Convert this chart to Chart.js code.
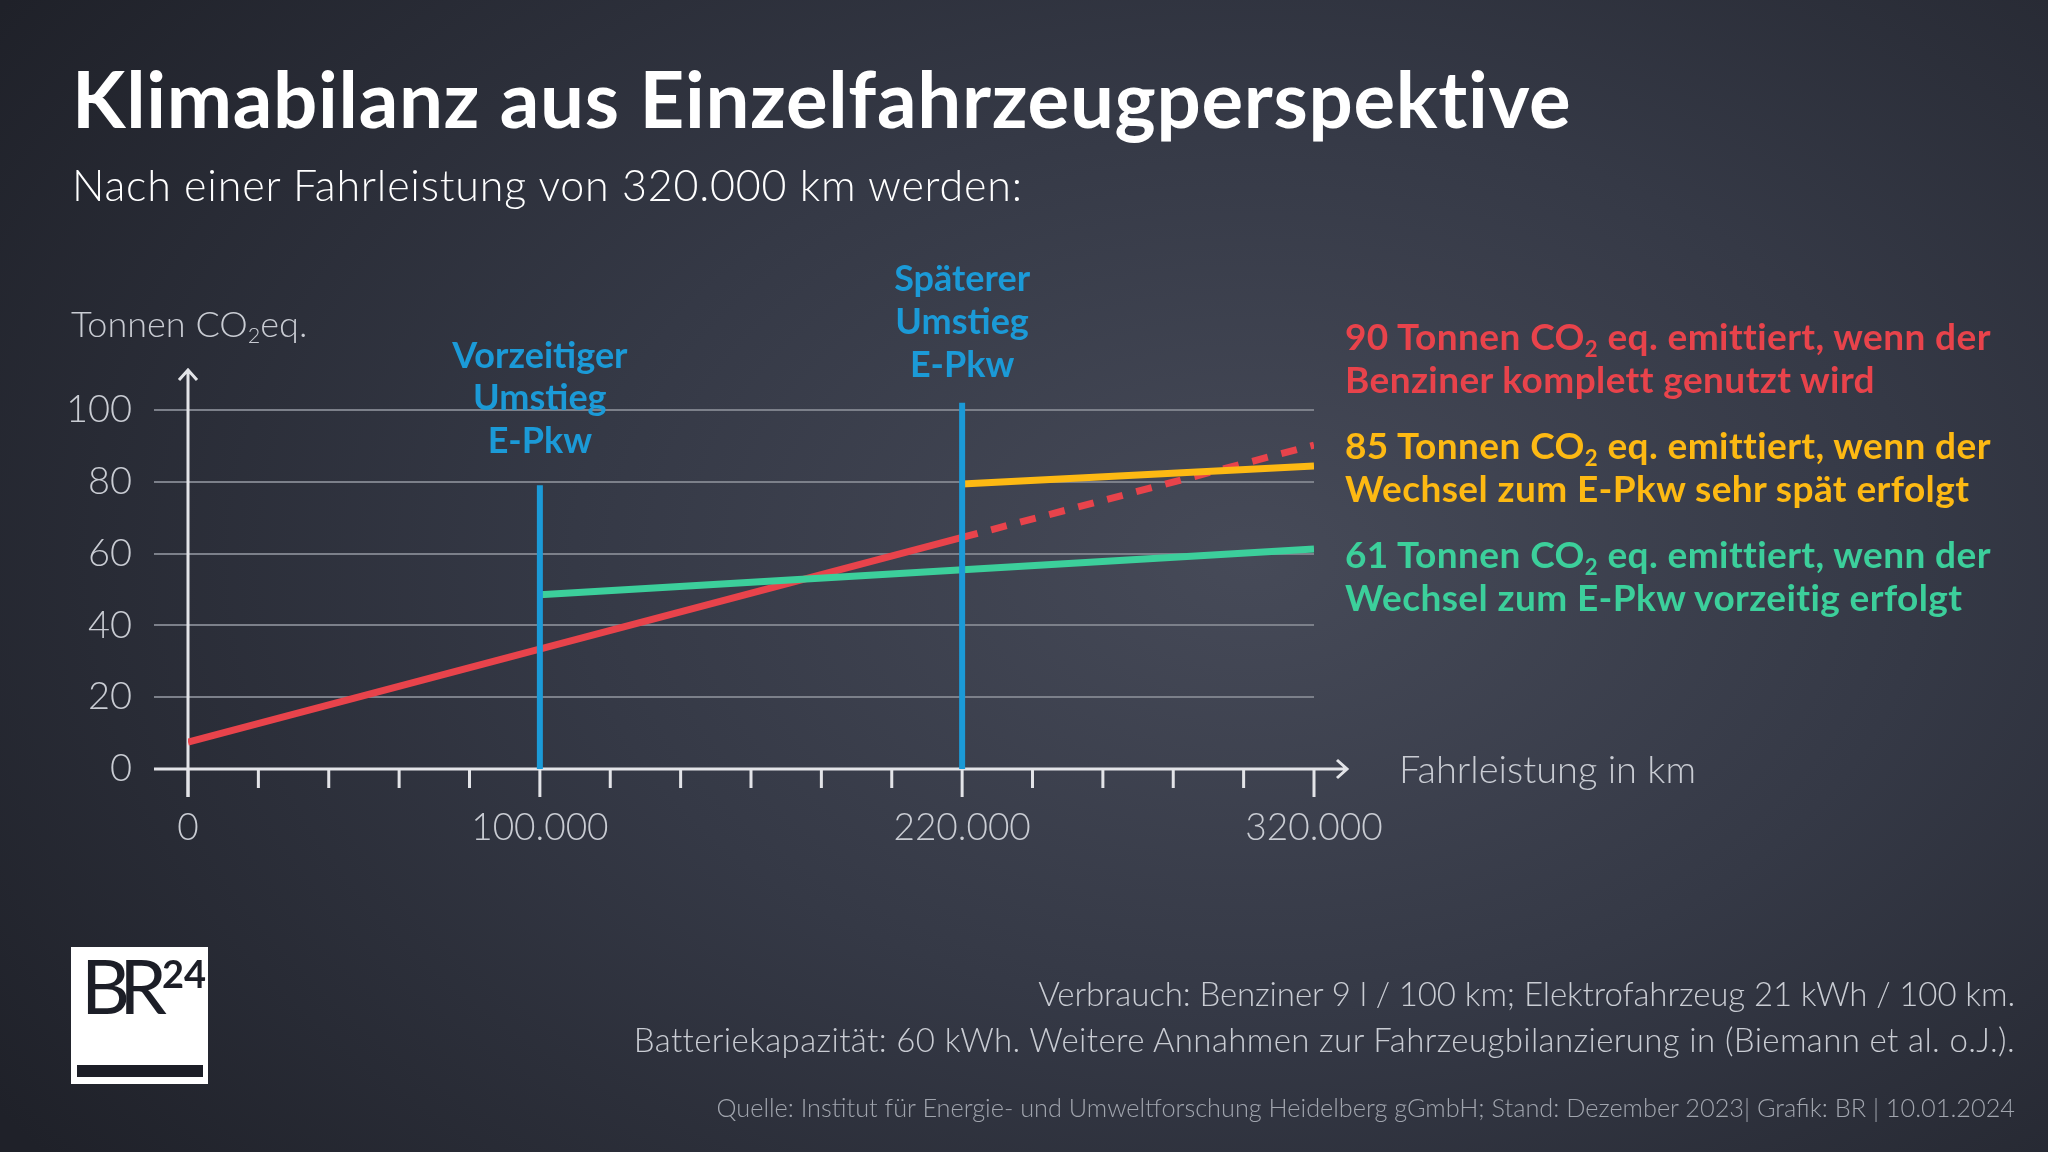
<!DOCTYPE html>
<html lang="de">
<head>
<meta charset="utf-8">
<title>Klimabilanz aus Einzelfahrzeugperspektive</title>
<script src="https://cdn.jsdelivr.net/npm/chart.js@4.4.1/dist/chart.umd.min.js"></script>
<style>
  html, body { margin: 0; padding: 0; }
  body {
    width: 2048px; height: 1152px; overflow: hidden; position: relative;
    font-family: Lato, "Open Sans", sans-serif;
    background: radial-gradient(ellipse 1500px 1000px at 1250px 560px, #464a58 0%, #353946 45%, #1f2129 100%);
  }
  #chart { position: absolute; left: 0; top: 0; }
  .txt { position: absolute; white-space: nowrap; line-height: 1; }
  #title { left: 72px; top: 59px; font-size: 78px; font-weight: 700; color: #fff; letter-spacing: 0.7px; }
  #subtitle { left: 72px; top: 163px; font-size: 43px; font-weight: 300; color: #fff; letter-spacing: 0.8px; }
  #yTitle { left: 71px; top: 305px; font-size: 36px; font-weight: 300; color: #c9ccd3; }
  #xTitle { left: 1399px; top: 749px; font-size: 38px; font-weight: 300; color: #c9ccd3; }
  .note { left: 1345px; font-size: 37px; font-weight: 700; line-height: 43px; letter-spacing: 0.4px; }
  #noteRed { top: 314px; color: #e8434b; }
  #noteYellow { top: 423px; color: #fdb913; }
  #noteGreen { top: 532px; color: #3ccf9b; }
  sub { font-size: 0.6em; line-height: 0; vertical-align: baseline; position: relative; top: 0.3em; }
  .foot { right: 33px; text-align: right; font-weight: 300; color: #c9ccd3; }
  #foot1 { top: 977px; font-size: 33px; letter-spacing: -0.1px; }
  #foot2 { top: 1023px; font-size: 33px; letter-spacing: 0.37px; }
  #source { top: 1095px; font-size: 25.3px; color: #a1a5ae; }
  #logo { position: absolute; left: 71px; top: 947px; width: 137px; height: 137px; background: #fff; }
  #logo .br { position: absolute; left: 10px; top: 0px; font-size: 76px; font-weight: 400; color: #1c1e27; letter-spacing: -11px; line-height: 1; }
  #logo .n { position: absolute; left: 91px; top: 7px; font-size: 38px; font-weight: 700; color: #1c1e27; line-height: 1; }
  #logo .bar { position: absolute; left: 6px; top: 118px; width: 126px; height: 12px; background: #1c1e27; }
</style>
</head>
<body>
<canvas id="chart" width="2048" height="1152"></canvas>

<div class="txt" id="title">Klimabilanz aus Einzelfahrzeugperspektive</div>
<div class="txt" id="subtitle">Nach einer Fahrleistung von 320.000 km werden:</div>
<div class="txt" id="yTitle">Tonnen CO<sub>2</sub>eq.</div>
<div class="txt" id="xTitle">Fahrleistung in km</div>

<div class="txt note" id="noteRed">90 Tonnen CO<sub>2</sub> eq. emittiert, wenn der<br>Benziner komplett genutzt wird</div>
<div class="txt note" id="noteYellow">85 Tonnen CO<sub>2</sub> eq. emittiert, wenn der<br>Wechsel zum E-Pkw sehr spät erfolgt</div>
<div class="txt note" id="noteGreen">61 Tonnen CO<sub>2</sub> eq. emittiert, wenn der<br>Wechsel zum E-Pkw vorzeitig erfolgt</div>

<div class="txt foot" id="foot1">Verbrauch: Benziner 9 l / 100 km; Elektrofahrzeug 21 kWh / 100 km.</div>
<div class="txt foot" id="foot2">Batteriekapazität: 60 kWh. Weitere Annahmen zur Fahrzeugbilanzierung in (Biemann et al. o.J.).</div>
<div class="txt foot" id="source">Quelle: Institut für Energie- und Umweltforschung Heidelberg gGmbH; Stand: Dezember 2023| Grafik: BR | 10.01.2024</div>

<div id="logo"><span class="br">BR</span><span class="n">24</span><div class="bar"></div></div>

<script>
// tick positions (km) and labels
const kmTicks = [0, 20000, 40000, 60000, 80000, 100000, 120000, 140000, 160000,
                 180000, 200000, 220000, 240000, 260000, 280000, 300000, 320000];
const kmLabels = [0, 100000, 220000, 320000];
const tonTicks = [0, 20, 40, 60, 80, 100];

// Benziner (solid until the switch point, dashed afterwards)
const benzinerKm = [0, 220000];
const benzinerT = [7.5, 64.5];
const benzinerRestKm = [220000, 320000];
const benzinerRestT = [64.5, 90.2];

// early switch to e-car
const vorzeitigKm = [100000, 320000];
const vorzeitigT = [48.5, 61.3];

// late switch to e-car
const spaetKm = [220000, 320000];
const spaetT = [79.4, 84.4];

// blue markers for the switch points
const umstieg1Km = [100000, 100000];
const umstieg1T = [0, 79];
const umstieg2Km = [220000, 220000];
const umstieg2T = [0, 102];

const RED = "#e8434b";
const GREEN = "#3ccf9b";
const YELLOW = "#fdb913";
const BLUE = "#1b9ad7";
const AXIS = "#e3e4e8";

const pts = (xs, ys) => xs.map((x, i) => ({ x: x, y: ys[i] }));

// axes with arrows and tick marks
const axesPlugin = {
    id: "axes",
    beforeDatasetsDraw(chart) {
        const ctx = chart.ctx;
        const x = chart.scales.x;
        const y = chart.scales.y;
        const x0 = x.getPixelForValue(0);
        const y0 = y.getPixelForValue(0);
        const yTop = y.top - 4;
        const xEnd = x.right + 33;

        ctx.save();
        ctx.strokeStyle = AXIS;
        ctx.lineWidth = 3;
        ctx.lineCap = "butt";

        ctx.beginPath();
        ctx.moveTo(x0, y0 + 28);
        ctx.lineTo(x0, yTop);
        ctx.moveTo(x0 - 9, yTop + 10);
        ctx.lineTo(x0, yTop);
        ctx.lineTo(x0 + 9, yTop + 10);
        ctx.stroke();

        ctx.beginPath();
        ctx.moveTo(x.left - 34, y0);
        ctx.lineTo(xEnd, y0);
        ctx.moveTo(xEnd - 10, y0 - 9);
        ctx.lineTo(xEnd, y0);
        ctx.lineTo(xEnd - 10, y0 + 9);
        ctx.stroke();

        ctx.beginPath();
        kmTicks.forEach(v => {
            const px = x.getPixelForValue(v);
            const len = kmLabels.includes(v) ? 28 : 19;
            ctx.moveTo(px, y0);
            ctx.lineTo(px, y0 + len);
        });
        ctx.stroke();
        ctx.restore();
    }
};

// labels above the blue switch markers
const switchLabels = [
    { km: 100000, lines: [["Vorzeitiger", 114.8], ["Umstieg", 103.3], ["E-Pkw", 91.3]] },
    { km: 220000, lines: [["Späterer", 136.3], ["Umstieg", 124.3], ["E-Pkw", 112.3]] }
];

const switchLabelPlugin = {
    id: "switchLabels",
    afterDatasetsDraw(chart) {
        const ctx = chart.ctx;
        ctx.save();
        ctx.fillStyle = BLUE;
        ctx.font = "700 36px Lato, 'Open Sans', sans-serif";
        ctx.textAlign = "center";
        ctx.textBaseline = "middle";
        switchLabels.forEach(lab => {
            const px = chart.scales.x.getPixelForValue(lab.km);
            lab.lines.forEach(l => {
                ctx.fillText(l[0], px, chart.scales.y.getPixelForValue(l[1]));
            });
        });
        ctx.restore();
    }
};

const lineStyle = {
    borderWidth: 7,
    pointRadius: 0,
    borderCapStyle: "butt",
    tension: 0,
    fill: false,
    order: 1
};

new Chart(document.getElementById("chart"), {
    type: "line",
    data: {
        datasets: [
            { ...lineStyle, label: "Umstieg 1", data: pts(umstieg1Km, umstieg1T), borderColor: BLUE, borderWidth: 6, order: 0 },
            { ...lineStyle, label: "Umstieg 2", data: pts(umstieg2Km, umstieg2T), borderColor: BLUE, borderWidth: 6, order: 0 },
            { ...lineStyle, label: "Wechsel spät", data: pts(spaetKm, spaetT), borderColor: YELLOW },
            { ...lineStyle, label: "Wechsel vorzeitig", data: pts(vorzeitigKm, vorzeitigT), borderColor: GREEN },
            { ...lineStyle, label: "Benziner", data: pts(benzinerKm, benzinerT), borderColor: RED },
            { ...lineStyle, label: "Benziner (weiter)", data: pts(benzinerRestKm, benzinerRestT), borderColor: RED, borderDash: [16, 14] }
        ]
    },
    options: {
        responsive: false,
        animation: false,
        layout: {
            padding: { left: 0, top: 374, right: 734, bottom: 0 }
        },
        plugins: {
            legend: { display: false },
            tooltip: { enabled: false }
        },
        scales: {
            x: {
                type: "linear",
                min: 0,
                max: 320000,
                afterBuildTicks: scale => { scale.ticks = kmLabels.map(v => ({ value: v })); },
                afterFit: scale => { scale.height = 383; },
                grid: { display: false, drawTicks: false },
                border: { display: false },
                ticks: {
                    autoSkip: false,
                    maxRotation: 0,
                    padding: 37,
                    color: "#c9ccd3",
                    font: { family: "Lato", size: 37, weight: "300" },
                    callback: v => v === 0 ? "0" : (v / 1000) + ".000"
                }
            },
            y: {
                min: 0,
                max: 110,
                afterBuildTicks: scale => { scale.ticks = tonTicks.map(v => ({ value: v })); },
                afterFit: scale => { scale.width = 188; },
                grid: {
                    color: "#7c808a",
                    lineWidth: 2,
                    tickLength: 34,
                    tickColor: "#7c808a"
                },
                border: { display: false },
                ticks: {
                    padding: 22,
                    color: "#c9ccd3",
                    font: { family: "Lato", size: 38, weight: "300" }
                }
            }
        }
    },
    plugins: [axesPlugin, switchLabelPlugin]
});
</script>
</body>
</html>
